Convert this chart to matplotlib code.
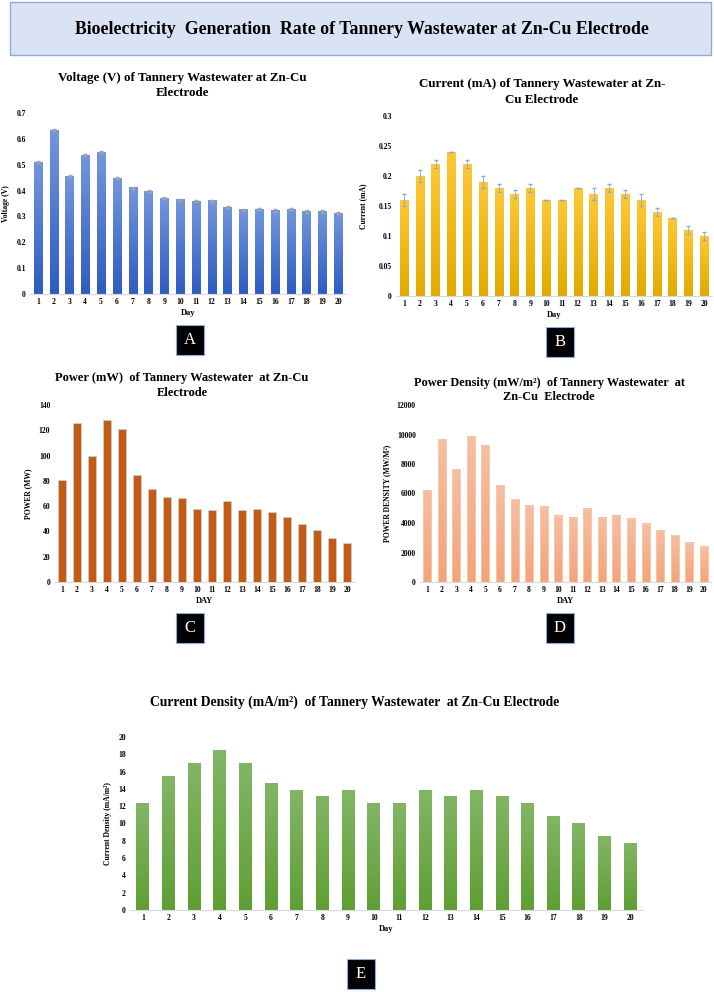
import numpy as np
import matplotlib
matplotlib.use("Agg")
import matplotlib.pyplot as plt
from matplotlib.colors import LinearSegmentedColormap
from matplotlib.patches import Rectangle
from matplotlib.ticker import FuncFormatter

plt.rcParams["font.family"] = ["Liberation Serif", "DejaVu Serif"]
plt.rcParams["font.weight"] = "bold"

# data
days = list(range(1, 21))
voltage = [0.51, 0.633, 0.455, 0.536, 0.549, 0.448, 0.41, 0.397, 0.371, 0.364,
           0.358, 0.36, 0.336, 0.326, 0.327, 0.323, 0.327, 0.319, 0.319, 0.313]
voltage_err = [0.004] * 20
current = [0.16, 0.20, 0.22, 0.24, 0.22, 0.19, 0.18, 0.17, 0.18, 0.16,
           0.16, 0.18, 0.17, 0.18, 0.17, 0.16, 0.14, 0.13, 0.11, 0.10]
current_err = [0.01, 0.01, 0.006, 0, 0.006, 0.01, 0.006, 0.006, 0.006, 0,
               0, 0, 0.01, 0.006, 0.006, 0.01, 0.006, 0, 0.006, 0.006]
power = [81, 126, 100, 128, 120.7, 85, 73.4, 67.4, 66.6, 58.1,
         56.8, 64.4, 56.8, 58.1, 55.2, 51.2, 45.7, 41.5, 34.9, 30.9]
power_density = [6226, 9690, 7630, 9871, 9260, 6566, 5615, 5162, 5094, 4483,
                 4370, 4981, 4370, 4483, 4279, 3962, 3509, 3170, 2672, 2400]
current_density = [12.3, 15.38, 16.92, 18.46, 16.92, 14.6, 13.85, 13.08, 13.85, 12.3,
                   12.3, 13.85, 13.08, 13.85, 13.08, 12.3, 10.77, 10.0, 8.46, 7.69]

W, H = 714, 992
fig = plt.figure(figsize=(W / 100, H / 100), dpi=100)


def px_axes(x0, x1, ytop, ybot):
    return fig.add_axes([x0 / W, 1 - ybot / H, (x1 - x0) / W, (ybot - ytop) / H])


def ftext(x, y, s, **kw):
    fig.text(x / W, 1 - y / H, s, ha="center", va="center", **kw)


def grad_bars(ax, x, h, top, bottom, width=0.53, edge="none"):
    cmap = LinearSegmentedColormap.from_list("g", [bottom, top])
    grad = np.linspace(0, 1, 128).reshape(-1, 1)
    bars = ax.bar(x, h, width, color="none", edgecolor=edge, linewidth=0.6, zorder=3)
    for b in bars:
        ax.imshow(grad, extent=[b.get_x(), b.get_x() + b.get_width(), 0, b.get_height()],
                  origin="lower", cmap=cmap, aspect="auto", zorder=2)
    return bars


def style(ax, ymax, step, xlabel, ylabel, ylx, ylab_pad=3):
    ax.set_xlim(-0.5, len(days) - 0.5)
    ax.set_ylim(0, ymax)
    ax.set_yticks(np.arange(0, ymax + step / 2, step))
    ax.yaxis.set_major_formatter(FuncFormatter(lambda v, p: "%g" % round(v, 4)))
    ax.set_xticks(range(len(days)))
    ax.set_xticklabels([str(d) for d in days])
    for s in ["top", "right", "left"]:
        ax.spines[s].set_visible(False)
    ax.spines["bottom"].set_color("#d9d9d9")
    ax.tick_params(length=0, labelsize=5.5, pad=ylab_pad)
    for t in ax.get_xticklabels() + ax.get_yticklabels():
        t.set_fontweight("bold")
    ax.set_xlabel(xlabel, fontsize=6, fontweight="bold", labelpad=2)
    ax.set_ylabel(ylabel, fontsize=5.5, fontweight="bold")
    ax.yaxis.set_label_coords(ylx, 0.5)


def letter_box(x0, y0, s):
    fig.patches.append(Rectangle((x0 / W, 1 - (y0 + 30) / H), 28 / W, 30 / H,
                                 transform=fig.transFigure, facecolor="black",
                                 edgecolor="#8faadc", linewidth=0.8))
    ftext(x0 + 14, y0 + 15, s, color="white", fontsize=12, fontweight="normal")


# main title box
fig.patches.append(Rectangle((10 / W, 1 - 55 / H), 701 / W, 53 / H,
                             transform=fig.transFigure, facecolor="#dae3f3",
                             edgecolor="#8faadc", linewidth=1))
ftext(362, 29, "Bioelectricity  Generation  Rate of Tannery Wastewater at Zn-Cu Electrode",
      fontsize=12.8, fontweight="bold")

# A voltage
ax = px_axes(30, 346, 113, 294)
x = np.arange(len(days))
grad_bars(ax, x, voltage, "#7396dc", "#2d5cc2")
ax.errorbar(x, voltage, yerr=voltage_err, fmt="none", ecolor="#a6a6a6", elinewidth=0.6,
            capsize=1.5, zorder=4)
style(ax, 0.7, 0.1, "Day", "Voltage (V)", -0.062)
ftext(182, 78, "Voltage (V) of Tannery Wastewater at Zn-Cu", fontsize=9.4)
ftext(182, 93, "Electrode", fontsize=9.4)
letter_box(176, 325, "A")

# B current
ax = px_axes(396, 712, 116, 296)
grad_bars(ax, x, current, "#fdc835", "#e2aa00")
ax.errorbar(x, current, yerr=current_err, fmt="none", ecolor="#8fa8c8", elinewidth=0.6,
            capsize=1.5, zorder=4)
style(ax, 0.3, 0.05, "Day", "Current (mA)", -0.09)
ftext(542, 84, "Current (mA) of Tannery Wastewater at Zn-", fontsize=9.4)
ftext(542, 100, "Cu Electrode", fontsize=9.4)
letter_box(546, 327, "B")

# C power
ax = px_axes(54.5, 354.5, 405, 582)
ax.bar(x, power, 0.55, color="#c55a11", edgecolor="#bdd7ee", linewidth=0.5, zorder=3)
style(ax, 140, 20, "DAY", "POWER (MW)", -0.075)
ftext(182, 378, "Power (mW)  of Tannery Wastewater  at Zn-Cu", fontsize=9)
ftext(182, 393, "Electrode", fontsize=9)
letter_box(176, 613, "C")

# D power density
ax = px_axes(420, 711, 405, 582)
grad_bars(ax, x, power_density, "#f6bfa3", "#f4a379", width=0.55, edge="#f8cbad")
style(ax, 12000, 2000, "DAY", "POWER DENSITY (MW/M²)", -0.1)
ftext(549, 383, "Power Density (mW/m²)  of Tannery Wastewater  at", fontsize=8.8)
ftext(549, 397, "Zn-Cu  Electrode", fontsize=8.8)
letter_box(546, 613, "D")

# E current density
ax = px_axes(130, 643, 737, 910)
grad_bars(ax, x, current_density, "#82b665", "#5e9f34", width=0.5)
style(ax, 20, 2, "Day", "Current Density (mA/m²)", -0.035)
ftext(355, 702, "Current Density (mA/m²)  of Tannery Wastewater  at Zn-Cu Electrode",
      fontsize=9.8)
letter_box(347, 959, "E")

fig.savefig("out.png", dpi=100)
